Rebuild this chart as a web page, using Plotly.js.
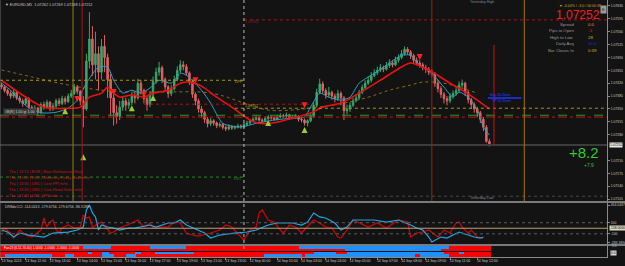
<!DOCTYPE html>
<html><head><meta charset="utf-8">
<script src="https://cdn.plot.ly/plotly-3.0.1.min.js"></script>
<style>html,body{margin:0;padding:0;background:#131313;}#chart{width:625px;height:266px;}</style>
</head><body><div id="chart"></div>
<script>
// ---------- DATA ----------
const symbolName = "EURUSD,M5";
const barOpen = [1.07415,1.07410,1.07400,1.07392,1.07385,1.07395,1.07380,1.07372,1.07365,1.07378,
1.07355,1.07345,1.07352,1.07340,1.07362,1.07355,1.07368,1.07350,1.07358,1.07372,
1.07365,1.07378,1.07370,1.07385,1.07392,1.07410,1.07398,1.07372,1.07350,1.07480,
1.07540,1.07470,1.07500,1.07450,1.07520,1.07490,1.07430,1.07380,1.07340,1.07330,
1.07355,1.07372,1.07360,1.07368,1.07385,1.07380,1.07420,1.07400,1.07378,1.07362,
1.07390,1.07425,1.07450,1.07462,1.07430,1.07410,1.07392,1.07405,1.07430,1.07455,
1.07470,1.07465,1.07448,1.07425,1.07390,1.07372,1.07350,1.07340,1.07322,1.07310,
1.07318,1.07312,1.07305,1.07308,1.07300,1.07296,1.07302,1.07298,1.07300,1.07304,
1.07302,1.07308,1.07312,1.07318,1.07322,1.07326,1.07320,1.07318,1.07324,1.07328,
1.07326,1.07322,1.07328,1.07332,1.07330,1.07334,1.07326,1.07328,1.07330,1.07322,
1.07320,1.07312,1.07318,1.07330,1.07360,1.07395,1.07418,1.07400,1.07388,1.07395,
1.07385,1.07378,1.07392,1.07380,1.07345,1.07350,1.07360,1.07372,1.07380,1.07395,
1.07408,1.07420,1.07428,1.07440,1.07448,1.07455,1.07462,1.07458,1.07468,1.07475,
1.07470,1.07482,1.07490,1.07500,1.07512,1.07505,1.07495,1.07482,1.07475,1.07470,
1.07462,1.07458,1.07450,1.07445,1.07420,1.07405,1.07390,1.07378,1.07372,1.07385,
1.07392,1.07400,1.07415,1.07420,1.07395,1.07375,1.07362,1.07350,1.07340,1.07322,
1.07300,1.07262];
const barHigh = [1.07422,1.07414,1.07405,1.07398,1.07402,1.07399,1.07386,1.07378,1.07385,1.07382,
1.07360,1.07360,1.07356,1.07368,1.07370,1.07375,1.07372,1.07366,1.07378,1.07380,
1.07386,1.07384,1.07392,1.07402,1.07418,1.07415,1.07402,1.07385,1.07500,1.07613,
1.07575,1.07560,1.07520,1.07540,1.07551,1.07500,1.07445,1.07395,1.07360,1.07372,
1.07385,1.07380,1.07378,1.07395,1.07398,1.07432,1.07428,1.07405,1.07385,1.07398,
1.07438,1.07462,1.07478,1.07468,1.07436,1.07415,1.07415,1.07440,1.07466,1.07482,
1.07480,1.07472,1.07452,1.07430,1.07395,1.07378,1.07358,1.07345,1.07328,1.07325,
1.07322,1.07316,1.07314,1.07312,1.07305,1.07308,1.07306,1.07305,1.07310,1.07308,
1.07313,1.07318,1.07323,1.07328,1.07332,1.07330,1.07324,1.07330,1.07334,1.07332,
1.07330,1.07334,1.07338,1.07336,1.07340,1.07337,1.07333,1.07336,1.07333,1.07327,
1.07324,1.07322,1.07336,1.07368,1.07405,1.07432,1.07425,1.07406,1.07410,1.07400,
1.07392,1.07402,1.07398,1.07385,1.07362,1.07368,1.07380,1.07390,1.07402,1.07416,
1.07428,1.07438,1.07450,1.07458,1.07465,1.07472,1.07468,1.07478,1.07485,1.07482,
1.07492,1.07498,1.07510,1.07520,1.07518,1.07510,1.07500,1.07490,1.07482,1.07476,
1.07470,1.07464,1.07458,1.07450,1.07428,1.07412,1.07396,1.07385,1.07392,1.07400,
1.07410,1.07425,1.07430,1.07424,1.07400,1.07380,1.07368,1.07356,1.07345,1.07328,
1.07306,1.07269];
const barLow = [1.07404,1.07395,1.07386,1.07378,1.07380,1.07374,1.07365,1.07356,1.07360,1.07348,
1.07336,1.07340,1.07332,1.07336,1.07348,1.07350,1.07344,1.07345,1.07352,1.07358,
1.07360,1.07362,1.07366,1.07380,1.07388,1.07390,1.07360,1.07300,1.07345,1.07460,
1.07440,1.07430,1.07400,1.07430,1.07450,1.07380,1.07330,1.07305,1.07310,1.07320,
1.07345,1.07345,1.07350,1.07360,1.07365,1.07375,1.07390,1.07365,1.07345,1.07355,
1.07385,1.07418,1.07440,1.07420,1.07398,1.07380,1.07385,1.07400,1.07425,1.07448,
1.07455,1.07440,1.07415,1.07380,1.07360,1.07340,1.07328,1.07312,1.07300,1.07304,
1.07305,1.07298,1.07300,1.07294,1.07290,1.07292,1.07293,1.07294,1.07297,1.07296,
1.07298,1.07304,1.07308,1.07314,1.07318,1.07315,1.07312,1.07314,1.07320,1.07321,
1.07318,1.07319,1.07325,1.07326,1.07326,1.07320,1.07322,1.07324,1.07316,1.07314,
1.07305,1.07303,1.07314,1.07326,1.07355,1.07390,1.07392,1.07378,1.07382,1.07375,
1.07368,1.07372,1.07360,1.07320,1.07335,1.07342,1.07355,1.07368,1.07375,1.07390,
1.07402,1.07415,1.07422,1.07436,1.07442,1.07450,1.07450,1.07454,1.07462,1.07463,
1.07466,1.07476,1.07485,1.07495,1.07498,1.07486,1.07474,1.07468,1.07462,1.07455,
1.07448,1.07442,1.07436,1.07410,1.07395,1.07380,1.07365,1.07360,1.07366,1.07378,
1.07386,1.07395,1.07408,1.07385,1.07365,1.07350,1.07340,1.07328,1.07312,1.07290,
1.07258,1.07248];
const barClose = [1.07410,1.07400,1.07392,1.07385,1.07395,1.07380,1.07372,1.07365,1.07378,1.07355,
1.07345,1.07352,1.07340,1.07362,1.07355,1.07368,1.07350,1.07358,1.07372,1.07365,
1.07378,1.07370,1.07385,1.07392,1.07410,1.07398,1.07372,1.07350,1.07480,1.07540,
1.07470,1.07500,1.07450,1.07520,1.07490,1.07430,1.07380,1.07340,1.07330,1.07355,
1.07372,1.07360,1.07368,1.07385,1.07380,1.07420,1.07400,1.07378,1.07362,1.07390,
1.07425,1.07450,1.07462,1.07430,1.07410,1.07392,1.07405,1.07430,1.07455,1.07470,
1.07465,1.07448,1.07425,1.07390,1.07372,1.07350,1.07340,1.07322,1.07310,1.07318,
1.07312,1.07305,1.07308,1.07300,1.07296,1.07302,1.07298,1.07300,1.07304,1.07302,
1.07308,1.07312,1.07318,1.07322,1.07326,1.07320,1.07318,1.07324,1.07328,1.07326,
1.07322,1.07328,1.07332,1.07330,1.07334,1.07326,1.07328,1.07330,1.07322,1.07320,
1.07312,1.07318,1.07330,1.07360,1.07395,1.07418,1.07400,1.07388,1.07395,1.07385,
1.07378,1.07392,1.07380,1.07345,1.07350,1.07360,1.07372,1.07380,1.07395,1.07408,
1.07420,1.07428,1.07440,1.07448,1.07455,1.07462,1.07458,1.07468,1.07475,1.07470,
1.07482,1.07490,1.07500,1.07512,1.07505,1.07495,1.07482,1.07475,1.07470,1.07462,
1.07458,1.07450,1.07445,1.07420,1.07405,1.07390,1.07378,1.07372,1.07385,1.07392,
1.07400,1.07415,1.07420,1.07395,1.07375,1.07362,1.07350,1.07340,1.07322,1.07300,
1.07262,1.07252];

// moving averages (bar index, price)
const redMaBar = [0,14,22,26,29,33,35,37,39,43,47,50,55,59,62,66,71,76,82,85,91,96,102,106,112,118,125,132,135,141,148,152,157,161];
const redMaPrice = [1.07428,1.07355,1.07352,1.07355,1.07382,1.07393,1.07409,1.07393,1.07382,1.07388,1.07382,1.07393,1.07401,1.07420,1.07423,1.07412,1.07382,1.07355,1.07320,1.07311,1.07314,1.07325,1.07339,1.07355,1.07366,1.07393,1.07428,1.07464,1.07475,1.07456,1.07420,1.07401,1.07374,1.07350];
const tealMaBar = [0,3,6,10,14,18,22,25,28,32,35,37,40,43,46,49,52,56,59,61,66,69,73,79,84,90,96,100,102,105,108,112,115,118,123,127,132,135,138,141,146,149,151,154,157,159,161];
const tealMaPrice = [1.07420,1.07401,1.07374,1.07347,1.07339,1.07341,1.07352,1.07374,1.07420,1.07464,1.07464,1.07428,1.07393,1.07401,1.07393,1.07407,1.07428,1.07420,1.07447,1.07442,1.07401,1.07366,1.07311,1.07301,1.07311,1.07320,1.07325,1.07328,1.07355,1.07393,1.07382,1.07374,1.07382,1.07420,1.07447,1.07469,1.07496,1.07496,1.07469,1.07456,1.07409,1.07382,1.07396,1.07382,1.07347,1.07301,1.07279];
const slowMaBar = [0,10,22,33,43,55,66,72,80,88,96,104,113,121,128,135,139,146,151,157];
const slowMaPrice = [1.07456,1.07437,1.07415,1.07401,1.07396,1.07396,1.07396,1.07388,1.07366,1.07347,1.07347,1.07355,1.07366,1.07382,1.07401,1.07415,1.07423,1.07420,1.07409,1.07393];

// signal arrows
const buyBar = [21,27,43,50,88,100];
const buyPrice = [1.07352,1.07227,1.07360,1.07388,1.07320,1.07301];
const sellBar = [25,37,47,64,100,138];
const sellPrice = [1.07369,1.07388,1.07382,1.07420,1.07352,1.07483];

// CCI
const cciBlueBar = [0,2,4,6,9,14,17,22,25,27,28,29,30,31,32,33,35,37,39,42,44,46,49,51,55,57,59,61,65,67,69,72,77,81,84,88,91,93,96,99,101,103,105,107,110,112,114,116,119,123,127,131,135,137,139,141,142,145,147,149,151,154,156,158,159];
const cciBlueVal = [-32,-68,-158,-86,-122,-158,-86,-68,-32,22,329,419,275,203,-32,58,22,4,-32,4,4,22,58,22,94,94,148,58,-32,-86,-176,-122,-86,-68,-32,58,94,94,94,58,112,275,203,185,94,-32,22,148,148,148,112,148,58,4,-32,-158,-248,-158,-176,-122,-68,-122,-158,-176,-158];
const cciRedBar = [0,1,3,4,6,8,10,13,14,15,16,17,18,19,20,22,24,26,27,28,29,30,33,35,36,37,39,43,45,47,49,50,52,55,57,59,61,63,65,69,72,74,76,79,80,82,84,85,86,88,90,92,93,95,97,99,101,103,105,107,109,111,112,114,116,118,121,124,127,131,134,135,137,139,141,144,146,148,150,151,152,154,155,157,159];
const cciRedVal = [-68,4,-86,-176,-32,-122,-158,-32,185,22,112,148,-32,-86,4,58,4,22,239,185,203,22,112,-32,-86,-68,4,94,148,22,94,4,22,22,112,94,-86,-122,-140,-86,-32,58,22,-158,-212,-32,22,275,329,148,112,-32,-86,58,22,-86,22,148,94,22,4,-158,-176,-32,148,94,22,94,4,148,112,-158,-86,-68,-32,-158,-32,-86,94,112,22,-86,-32,-158,-176];
const cciTop = 454.0437, cciBottom = -283.1894;

// strength rows: segment edges (bar units) and side (S = sell/red, B = buy/blue)
const row1Edges = [-0.5,27,36,49,61,98,147.5,161.5];
const row1Side  = ['S','B','S','B','S','B','S'];
const row2Edges = [-0.5,113.5,145,161.5];
const row2Side  = ['S','B','S'];
const row3Edges = [-0.5,28.5,30,33,35.5,44,46,50.5,63.5,103,110.5,114,146,151,152.5,161.5];
const row3Side  = ['S','B','S','B','S','B','S','B','S','B','S','B','S','B','S'];
const row4Edges = [-0.5,1,16.5,21,24,33,37,41,44.5,86.5,99,100,136.5,138,147.5,161.5];
const row4Side  = ['S','B','S','B','S','B','S','B','S','B','S','B','S','B','S'];

// axis labels
const priceTicks = [1.07630,1.07595,1.07560,1.07525,1.07490,1.07455,1.07420,1.07385,1.07350,1.07315,1.07280,1.07210,1.07175,1.07140,1.07105];
const timeTickBar = [0,8,16,25,33,41,49,58,66,74,82,91,99,107,115,124,132,140,148,157];
const timeTickText = ["13 Sep 2023","13 Sep 12:00","13 Sep 13:00","13 Sep 14:00","13 Sep 15:00","13 Sep 16:00","13 Sep 17:00","13 Sep 19:00","13 Sep 21:00","13 Sep 23:00","14 Sep 00:00","14 Sep 01:00","14 Sep 03:00","14 Sep 04:00","14 Sep 05:00","14 Sep 07:00","14 Sep 08:00","14 Sep 09:00","14 Sep 11:00","14 Sep 12:00"];

// levels
const levelPrice = [1.07592,1.07428,1.07363,1.07352,1.07333,1.07328,1.07165,1.07113];
const levelFrom  = [80,-0.5,47,77,-0.5,-0.5,-0.5,-0.5];
const levelTo    = [199.8,80,102,199.8,199.8,199.8,80,199.8];
const eventBar   = [23.6,26.6,142,172.5];

const newsLines = ["Thu | 13:15 | EUR | Main Refinancing Rate","Thu | 13:45 | EUR | Monetary Policy Statement","Thu | 13:30 | USD | Core PPI m/m","Thu | 13:30 | USD | Core Retail Sales m/m","Thu | 13:30 | USD | PPI m/m"];
const infoLabels = ["Spread","Pips to Open","High to Low","Daily Avg","Bar Closes In"];
const infoValues = ["0.0","-3","28","50.0","0:39"];
const profitMain = "+8.2", profitSub = "+7.9";

// ---------- STYLE / LAYOUT ----------
const BG = '#131313';
const FONT = 'Liberation Sans, Arial, sans-serif';
const H = 257, W = 607;
const py = y => (H - y) / H;
const pxX = x => x / W;
const XMAX = 199.8;
const N = barClose.length;
const idx = barClose.map((_, i) => i);

const traces = [];
traces.push({type:'candlestick', x: idx, open: barOpen, high: barHigh, low: barLow, close: barClose,
  xaxis:'x', yaxis:'y', whiskerwidth: 0,
  increasing:{line:{color:'#35a86a', width:1}, fillcolor:'#35a86a'},
  decreasing:{line:{color:'#e06262', width:1}, fillcolor:'#e06262'}, hoverinfo:'skip'});
traces.push({type:'scatter', mode:'lines', x: slowMaBar, y: slowMaPrice, line:{color:'#8c6a12', width:1, dash:'dot', shape:'spline'}, xaxis:'x', yaxis:'y', hoverinfo:'skip'});
traces.push({type:'scatter', mode:'lines', x: tealMaBar, y: tealMaPrice, line:{color:'#2a9fc9', width:1, shape:'spline', smoothing:0.6}, xaxis:'x', yaxis:'y', hoverinfo:'skip'});
traces.push({type:'scatter', mode:'lines', x: redMaBar, y: redMaPrice, line:{color:'#ee1010', width:1.6, shape:'spline', smoothing:0.8}, xaxis:'x', yaxis:'y', hoverinfo:'skip'});
traces.push({type:'scatter', mode:'markers', x: buyBar, y: buyPrice, marker:{symbol:'arrow-up', size:6, color:'#9acd32'}, xaxis:'x', yaxis:'y', hoverinfo:'skip'});
traces.push({type:'scatter', mode:'markers', x: sellBar, y: sellPrice, marker:{symbol:'arrow-down', size:6, color:'#ff2020'}, xaxis:'x', yaxis:'y', hoverinfo:'skip'});
traces.push({type:'scatter', mode:'lines', x: cciRedBar, y: cciRedVal, line:{color:'#d80000', width:1.2}, xaxis:'x', yaxis:'y2', hoverinfo:'skip'});
traces.push({type:'scatter', mode:'lines', x: cciBlueBar, y: cciBlueVal, line:{color:'#1ea6e6', width:1.2}, xaxis:'x', yaxis:'y2', hoverinfo:'skip'});

// strength rows as horizontal bars
const rows = [[row1Edges,row1Side,4],[row2Edges,row2Side,3],[row3Edges,row3Side,2],[row4Edges,row4Side,1]];
const segY=[], segBase=[], segLen=[], segCol=[];
rows.forEach(([e,s,r]) => { for (let k=0;k<s.length;k++){ segY.push(r); segBase.push(e[k]); segLen.push(e[k+1]-e[k]); segCol.push(s[k]==='B'?'#1e90ff':'#ff0000'); } });
traces.push({type:'bar', orientation:'h', y: segY, x: segLen, base: segBase, width: 0.86,
  marker:{color: segCol, line:{width:0}}, xaxis:'x', yaxis:'y3', hoverinfo:'skip'});

const shapes = [];
const lvlColor = ['#a01818','#a89a00','#a01818','#a89a00','#1f9e1f','#c01818','#1f8f1f','#4a4a4a'];
const lvlDash  = ['dot','dot','dot','dot','dash','dashdot','dot','dot'];
levelPrice.forEach((p,k) => shapes.push({type:'line', xref:'x', yref:'y', x0: levelFrom[k], x1: levelTo[k], y0:p, y1:p, line:{color:lvlColor[k], width:1, dash:lvlDash[k]}}));
shapes.push({type:'line', xref:'x', yref:'y', x0:-0.5, x1:XMAX, y0:barClose[N-1], y1:barClose[N-1], line:{color:'#3c3c3c', width:2}});
const evColor = ['#9a7a10','#a01818','#a02010','#a87410'];
eventBar.forEach((b,k) => shapes.push({type:'line', xref:'x', yref:'paper', x0:b, x1:b, y0:py(201), y1:1, line:{color:evColor[k], width:1}}));
shapes.push({type:'line', xref:'x', yref:'paper', x0:80, x1:80, y0:py(249), y1:1, line:{color:'#bbbbbb', width:1, dash:'dot'}});
shapes.push({type:'line', xref:'x', yref:'y', x0:162.5, x1:162.5, y0:1.07524, y1:barClose[N-1], line:{color:'#d01010', width:1}});
shapes.push({type:'line', xref:'x', yref:'y', x0:160.5, x1:171.5, y0:1.07380, y1:1.07380, line:{color:'#1a2ccc', width:2}});
shapes.push({type:'line', xref:'paper', yref:'y2', x0:0, x1:1, y0:100, y1:100, line:{color:'#5a5a5a', width:1, dash:'dot'}});
shapes.push({type:'line', xref:'paper', yref:'y2', x0:0, x1:1, y0:-100, y1:-100, line:{color:'#5a5a5a', width:1, dash:'dot'}});
shapes.push({type:'line', xref:'paper', yref:'y2', x0:0, x1:1, y0:0, y1:0, line:{color:'#b8a07a', width:1}});
shapes.push({type:'rect', xref:'paper', yref:'paper', x0:0, x1:1.03, y0:py(203), y1:py(201), fillcolor:'#7a7a7a', line:{width:0}});
shapes.push({type:'rect', xref:'paper', yref:'paper', x0:0, x1:1.03, y0:py(246), y1:py(244), fillcolor:'#7a7a7a', line:{width:0}});
shapes.push({type:'line', xref:'paper', yref:'paper', x0:0, x1:0, y0:0, y1:1, line:{color:'#6a6a6a', width:1}});

const annotations = [];
function txt(text, x, y, size, color, anchor, extra){
  annotations.push(Object.assign({text, xref:'paper', yref:'paper', x:pxX(x), y:py(y), xanchor:anchor||'left', yanchor:'middle',
    showarrow:false, font:{family:FONT, size, color}}, extra||{}));
}
const f5 = v => v.toFixed(5);
txt('▼ ' + symbolName + '  ' + [barOpen[N-1],barHigh[N-1],barLow[N-1],barClose[N-1]].map(f5).join(' '), 3, 5, 3.8, '#c8c8c8');
txt('Yesterday High', 468, 1.8, 3.6, '#888888');
txt('Yesterday Low', 468, 198, 3.6, '#888888');
txt('DPP', 233, 82, 3.6, '#b8a800');
txt(f5(levelPrice[3]), 243, 106, 3.6, '#b8a800');
txt(f5(levelPrice[0]), 243, 22, 3.6, '#a01818');
txt('DS1', 232, 179, 3.6, '#1f8f1f');
txt('#B(R) 1.00 gr 1.00', 3, 112, 3.6, '#c8c8c8', 'left', {bgcolor:'#3a3a3a'});
txt('Buy 20 Zone', 488, 95, 3.6, '#2a40ff');
txt('TP 50 Zone', 490, 101, 3.6, '#2a40ff');
txt('▼ -0.04% / -3.0 / 00:00:38', 557, 6, 3.6, '#d8a020');
txt(f5(barClose[N-1]), 602, 15, 12, '#ff1a1a', 'right');
txt('E', 603, 10, 4, '#222', 'center', {bgcolor:'#9a9a9a'});
const infoCol = ['#d8b020','#e01010','#d8b020','#2030d0','#d8b020'];
infoLabels.forEach((l,k) => { txt(l, 576, 24.5 + k*6.4, 4.3, '#9a9a9a', 'right'); txt(infoValues[k], 586, 24.5 + k*6.4, 4.3, infoCol[k], 'left'); });
txt(profitMain, 584, 152, 15, '#2ecc2e', 'center');
txt(profitSub, 589, 164.5, 5, '#2ecc2e', 'center');
newsLines.forEach((l,k) => txt(l, 7, 171 + k*6, 3.9, '#c81818'));
txt('DRBdvCCI -114.0413 -179.6756 -179.6756 -86.5189', 3, 206.5, 3.6, '#c8c8c8');
txt('Fan23 (0.11.70.60) 1.0000 -1.0000 -1.0000 -1.0000', 2, 247.6, 3.3, '#ffffff');
annotations.push({text: f5(barClose[N-1]), xref:'paper', yref:'y', x:1, y:barClose[N-1], xanchor:'left', xshift:2, showarrow:false,
  bgcolor:'#e8e8e8', borderpad:0, font:{family:FONT, size:3.4, color:'#000'}});
annotations.push({text: cciBlueVal[cciBlueVal.length-1].toFixed(4), xref:'paper', yref:'y2', x:1, y:0, xanchor:'left', xshift:2, showarrow:false,
  bgcolor:'#e0d8c0', borderpad:0, font:{family:FONT, size:3.3, color:'#000'}});
annotations.push({text:'1.1', xref:'paper', yref:'paper', x:1, y:py(249.5), xanchor:'left', xshift:3, showarrow:false, font:{family:FONT, size:3.3, color:'#c8c8c8'}});
annotations.push({text:'0.0', xref:'paper', yref:'paper', x:1, y:py(255.5), xanchor:'left', xshift:3, showarrow:false, bgcolor:'#d8d8d8', borderpad:0, font:{family:FONT, size:3.3, color:'#000'}});

const axY = {showgrid:false, zeroline:false, side:'right', showline:true, linecolor:'#8a8a8a', linewidth:1,
  ticks:'outside', ticklen:2, tickcolor:'#8a8a8a', tickfont:{family:FONT, size:3.4, color:'#c8c8c8'}, fixedrange:true};

const layout = {
  width:625, height:266, paper_bgcolor:BG, plot_bgcolor:BG, showlegend:false,
  margin:{l:0, r:18, t:0, b:9}, barmode:'overlay', bargap:0,
  xaxis:{range:[-0.5, XMAX], anchor:'y3', showgrid:false, zeroline:false, rangeslider:{visible:false},
    tickvals: timeTickBar, ticktext: timeTickText, ticks:'outside', ticklen:2, tickcolor:'#8a8a8a',
    tickfont:{family:FONT, size:3.5, color:'#c8c8c8'}, ticklabelshift:10, ticklabelstandoff:-2,
    showline:true, linecolor:'#8a8a8a', fixedrange:true},
  yaxis: Object.assign({}, axY, {domain:[py(201),1], range:[1.07100,1.07646], tickvals: priceTicks, ticktext: priceTicks.map(f5)}),
  yaxis2: Object.assign({}, axY, {domain:[py(244),py(203)], range:[cciBottom,cciTop], tickvals:[cciTop - 40,100,-100,cciBottom + 30],
    ticktext:[cciTop.toFixed(4),'100','-100',cciBottom.toFixed(4)]}),
  yaxis3: Object.assign({}, axY, {domain:[0,py(246)], range:[0.5,4.5], showticklabels:false, ticks:''}),
  shapes, annotations
};
Plotly.newPlot('chart', traces, layout, {staticPlot:true, displayModeBar:false});
</script></body></html>
